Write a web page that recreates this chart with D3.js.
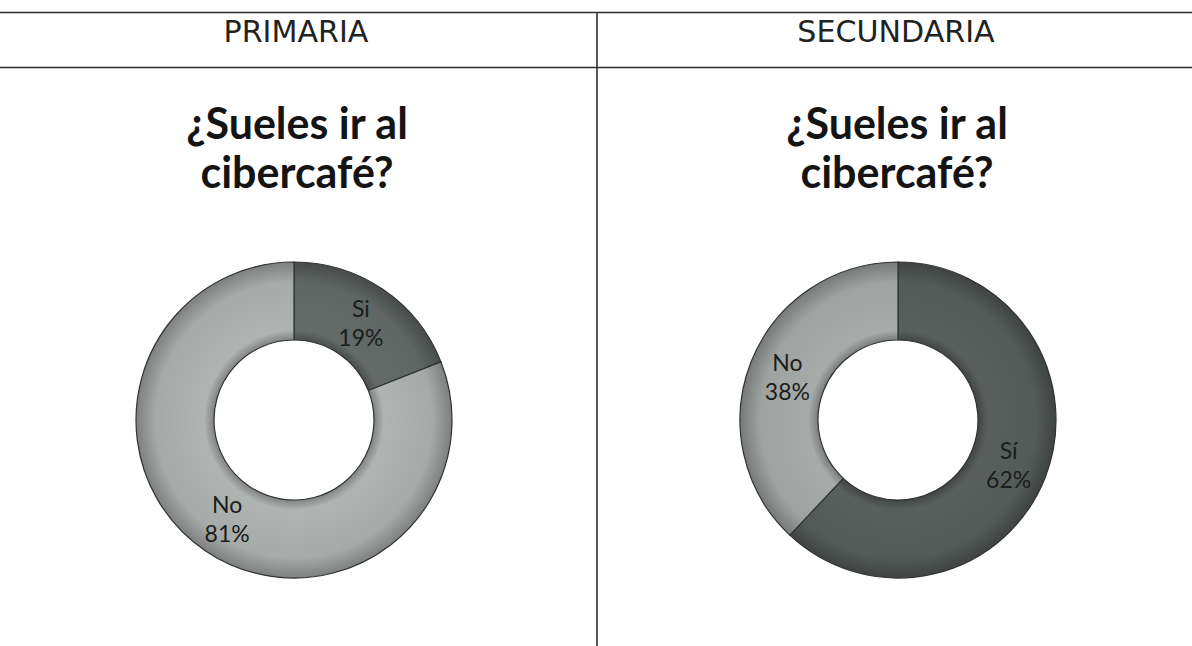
<!DOCTYPE html>
<html>
<head>
<meta charset="utf-8">
<script src="https://cdn.jsdelivr.net/npm/d3@7"></script>
<style>
  html, body { margin: 0; padding: 0; background: #ffffff; }
  svg { display: block; }
</style>
</head>
<body>
<svg id="chart" width="1192" height="646"></svg>
<script>
// ---- data ----
const panels = ["PRIMARIA", "SECUNDARIA"];
const chartTitleLines = ["¿Sueles ir al", "cibercafé?"];
const primariaLabels = ["Si", "No"];
const primariaValues = [19, 81];
const secundariaLabels = ["Sí", "No"];
const secundariaValues = [62, 38];

const W = 1192, H = 646;
const svg = d3.select("#chart");
const defs = svg.append("defs");

// table grid
const splitX = 597;
const grid = svg.append("g").attr("stroke", "#2b302e").attr("stroke-width", 1.6);
grid.append("line").attr("x1", 0).attr("x2", W).attr("y1", 12.5).attr("y2", 12.5);
grid.append("line").attr("x1", 0).attr("x2", W).attr("y1", 67.5).attr("y2", 67.5);
grid.append("line").attr("x1", splitX).attr("x2", splitX).attr("y1", 12).attr("y2", H);

const centers = { "PRIMARIA": 296, "SECUNDARIA": 896 };

// header texts: fit "PRIMARIA" to ~145px
const hdrSize = (() => {
  const t = svg.append("text").attr("font-family", "DejaVu Sans, Verdana, sans-serif")
    .attr("font-size", 20).text(panels[0]);
  const w = t.node().getComputedTextLength();
  t.remove();
  return 20 * 145 / w;
})();
panels.forEach(p => {
  svg.append("text")
    .attr("x", centers[p]).attr("y", 42)
    .attr("text-anchor", "middle")
    .attr("font-family", "DejaVu Sans, Verdana, sans-serif")
    .attr("font-size", hdrSize)
    .attr("fill", "#1f2321")
    .text(p);
});

// titles
panels.forEach(p => {
  const t = svg.append("text")
    .attr("text-anchor", "middle")
    .attr("font-family", "Lato, 'Open Sans', sans-serif")
    .attr("font-weight", "bold")
    .attr("font-size", 43)
    .attr("fill", "#141414");
  t.append("tspan").attr("x", centers[p] + 1).attr("y", 139).text(chartTitleLines[0]);
  t.append("tspan").attr("x", centers[p] + 1).attr("y", 188).text(chartTitleLines[1]);
});

// gradients for bevelled look
function makeGrad(id, base) {
  const c = d3.color(base);
  const g = defs.append("radialGradient").attr("id", id)
    .attr("gradientUnits", "userSpaceOnUse")
    .attr("cx", 0).attr("cy", 0).attr("r", 158);
  g.append("stop").attr("offset", 80 / 158).attr("stop-color", c.darker(0.7));
  g.append("stop").attr("offset", 90 / 158).attr("stop-color", c.brighter(0.15));
  g.append("stop").attr("offset", 138 / 158).attr("stop-color", c);
  g.append("stop").attr("offset", 1).attr("stop-color", c.darker(0.8));
}

const outerR = 158, innerR = 80;
const arc = d3.arc().innerRadius(innerR).outerRadius(outerR);
const labelArc = d3.arc().innerRadius(119).outerRadius(119);
const pie = d3.pie().sort(null).value(d => d.v);

function donut(cx, cy, labels, values, colors, idp) {
  const data = labels.map((l, i) => ({ l, v: values[i], c: colors[i] }));
  data.forEach((d, i) => makeGrad(idp + i, d.c));
  const g = svg.append("g").attr("transform", `translate(${cx},${cy})`);
  const arcs = pie(data);
  g.selectAll("path").data(arcs).enter().append("path")
    .attr("d", arc)
    .attr("fill", (d, i) => `url(#${idp + i})`)
    .attr("stroke", "#2f3432")
    .attr("stroke-width", 1.2);
  const lab = g.selectAll("text.lab").data(arcs).enter().append("text")
    .attr("class", "lab")
    .attr("text-anchor", "middle")
    .attr("font-family", "Lato, 'Open Sans', sans-serif")
    .attr("font-size", 23)
    .attr("fill", "#1a1d1c")
    .attr("transform", d => `translate(${labelArc.centroid(d)})`);
  lab.append("tspan").attr("x", 0).attr("y", -5).text(d => d.data.l);
  lab.append("tspan").attr("x", 0).attr("y", 24).text(d => d.data.v + "%");
}

donut(294, 420, primariaLabels, primariaValues, ["#5f6563", "#a6aaa8"], "gp");
donut(898, 420, secundariaLabels, secundariaValues, ["#545a58", "#9ea2a0"], "gs");
</script>
</body>
</html>
